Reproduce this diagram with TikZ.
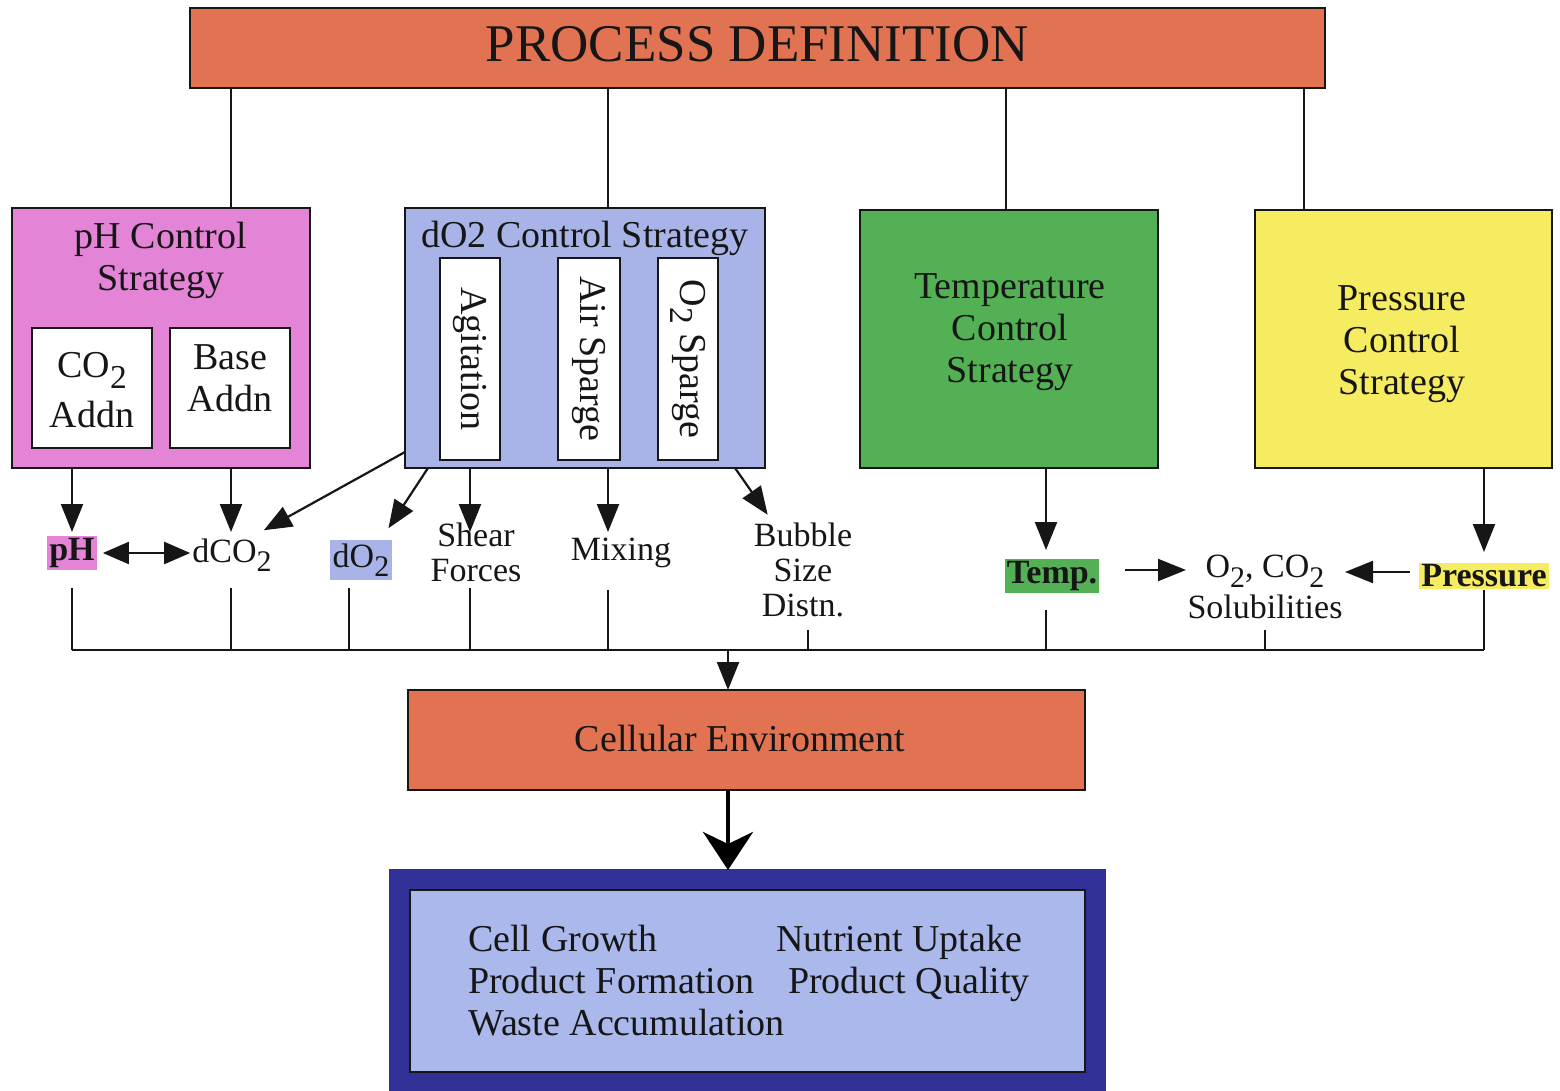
\documentclass[tikz,border=0pt]{standalone}
\usepackage{fontspec}
\setmainfont{Liberation Serif}
\usetikzlibrary{arrows.meta,calc}

\definecolor{procorange}{RGB}{226,115,82}
\definecolor{phpink}{RGB}{228,132,214}
\definecolor{doblue}{RGB}{168,180,232}
\definecolor{tgreen}{RGB}{84,176,84}
\definecolor{pyellow}{RGB}{246,236,98}
\definecolor{navy}{RGB}{48,48,150}
\definecolor{paleblue}{RGB}{170,184,236}
\definecolor{ink}{RGB}{22,22,22}

\newcommand{\fsmain}{\fontsize{38}{42}\selectfont}
\newcommand{\fslbl}{\fontsize{34}{35}\selectfont}
\newcommand{\fstitle}{\fontsize{53}{56}\selectfont}
\newcommand{\lowtwo}{\raisebox{-0.28em}{\scalebox{0.88}{2}}}

\tikzset{
  box/.style={draw=ink, line width=2.4pt, inner sep=0pt, outer sep=0pt},
  txt/.style={font=\fsmain, align=center, inner sep=0pt, text=ink},
  lbl/.style={font=\fslbl, align=center, inner sep=0pt, text=ink},
  tag/.style={font=\fslbl\bfseries, inner sep=2pt, text=ink},
  conn/.style={line width=2.2pt, draw=ink},
  arr/.style={conn, -{Triangle[length=28pt,width=22pt]}},
  dbl/.style={conn, {Triangle[length=26pt,width=22pt]}-{Triangle[length=26pt,width=22pt]}},
  bigarr/.style={line width=4.5pt, draw=black, -{Stealth[length=38pt,width=50pt,inset=12pt]}},
}

\begin{document}
\begin{tikzpicture}[x=1pt, y=-1pt]
\useasboundingbox (0,0) rectangle (1560,1091);

% top bar
\node[box, fill=procorange, minimum width=1135pt, minimum height=80pt,
      font=\fstitle, text=ink] (proc) at (757.5,48) {\raisebox{8pt}{PROCESS DEFINITION}};

% pH control strategy
\node[box, fill=phpink, minimum width=298pt, minimum height=260pt] (phbox) at (161,338) {};
\node[txt] (phtitle) at (161,260) {pH Control\\Strategy};
\node[box, fill=white, minimum width=120pt, minimum height=120pt] (co2add) at (92,388) {};
\node[txt] at ([yshift=-2pt]co2add.center) {CO\lowtwo\\[8pt]Addn};
\node[box, fill=white, minimum width=120pt, minimum height=120pt] (baseadd) at (230,388) {};
\node[txt] at ([yshift=10pt]baseadd.center) {Base\\Addn};

% dO2 control strategy
\node[box, fill=doblue, minimum width=360pt, minimum height=260pt] (dobox) at (585,338) {};
\node[txt] (dotitle) at (585,238) {dO2 Control Strategy};
\node[box, fill=white, minimum width=60pt, minimum height=202pt] (agit) at (470,359) {};
\node[txt, rotate=-90] at (agit) {Agitation};
\node[box, fill=white, minimum width=62pt, minimum height=202pt] (airsp) at (589,359) {};
\node[txt, rotate=-90] at (airsp) {Air Sparge};
\node[box, fill=white, minimum width=60pt, minimum height=202pt] (oxsp) at (688,359) {};
\node[txt, rotate=-90] at (oxsp) {O\lowtwo\ Sparge};

% temperature and pressure
\node[box, fill=tgreen, minimum width=298pt, minimum height=258pt] (tbox) at (1009,339) {};
\node[txt] at (1010,332) {Temperature\\Control\\Strategy};
\node[box, fill=pyellow, minimum width=297pt, minimum height=258pt] (pbox) at (1403.5,339) {};
\node[txt] at (1402,344) {Pressure\\Control\\Strategy};

% links from the top bar
\foreach \bx/\xx in {phbox/231, dobox/608, tbox/1006, pbox/1304}
  \draw[conn] (proc.south -| \xx,0) -- (\bx.north -| \xx,0);

% controlled variables
\node[tag, fill=phpink] (phl) at (72,553) {pH};
\node[lbl] (dco2) at (232,555) {dCO\lowtwo};
\node[lbl, fill=doblue, inner sep=3pt] (do2) at (361,560) {dO\lowtwo};
\node[lbl] (shear) at (476,552) {Shear\\Forces};
\node[lbl] (mix) at (621,553) {Mixing};
\node[lbl] (bubble) at (803,570) {Bubble\\Size\\Distn.};
\node[tag, fill=tgreen] (templ) at (1052,576) {Temp.};
\node[lbl] (sol) at (1265,587) {O\lowtwo, CO\lowtwo\\[6pt]Solubilities};
\node[tag, fill=pyellow] (presl) at (1484,576) {Pressure};

% strategy outputs
\draw[arr] (phl.north |- phbox.south) -- (phl.north |- 0,532);
\draw[arr] (phbox.south -| 231,0) -- (231,532);
\draw[arr] ([yshift=16pt]dobox.south west) -- ([xshift=-8pt,yshift=8pt]dco2.north east);
\draw[arr] ([xshift=23pt]dobox.south west) -- ([xshift=-4pt,yshift=12pt]do2.north east);
\draw[arr] (agit.south |- dobox.south) -- (agit.south |- 0,532);
\draw[arr] (dobox.south -| 608,0) -- (608,532);
\draw[arr] ([xshift=-30pt]dobox.south east) -- ([xshift=14pt,yshift=8pt]bubble.north west);
\draw[arr] (tbox.south -| 1046,0) -- (1046,550);
\draw[arr] (presl.north |- pbox.south) -- (presl.north |- 0,552);
\draw[arr] (1125,570) -- (1186,570);
\draw[arr] (1410,572) -- (1345,572);
\draw[dbl] ([xshift=6pt]phl.east) -- ([xshift=-2pt]dco2.west |- phl.east);

% collector line
\coordinate (bus) at (728,650);
\draw[conn] (72,650) -- (1484,650);
\draw[conn] (phl.south |- 0,588) -- (phl.south |- bus);
\draw[conn] (231,588) -- (231,650);
\draw[conn] (349,588) -- (349,650);
\draw[conn] (470,588) -- (470,650);
\draw[conn] (608,590) -- (608,650);
\draw[conn] (808,630) -- (808,650);
\draw[conn] (1046,610) -- (1046,650);
\draw[conn] (1265,630) -- (1265,650);
\draw[conn] (presl.south) -- (presl.south |- bus);

% cellular environment and outcomes
\node[box, fill=procorange, minimum width=677pt, minimum height=100pt] (cell) at (746.5,740) {};
\node[txt] at (740,738) {Cellular Environment};
\draw[arr] (bus) -- (bus |- cell.north);

\node[box, draw=navy, fill=navy, minimum width=715pt, minimum height=222pt] (outer) at (747.5,981) {};
\node[box, draw=ink, line width=1.5pt, fill=paleblue, minimum width=675pt, minimum height=182pt] (inner) at (747.5,981) {};
\draw[bigarr] (bus |- cell.south) -- (bus |- outer.north);

\node[txt, anchor=base west] at (468,951) {Cell Growth};
\node[txt, anchor=base west] at (776,951) {Nutrient Uptake};
\node[txt, anchor=base west] at (468,993) {Product Formation};
\node[txt, anchor=base west] at (788,993) {Product Quality};
\node[txt, anchor=base west] at (468,1035) {Waste Accumulation};
\end{tikzpicture}
\end{document}
